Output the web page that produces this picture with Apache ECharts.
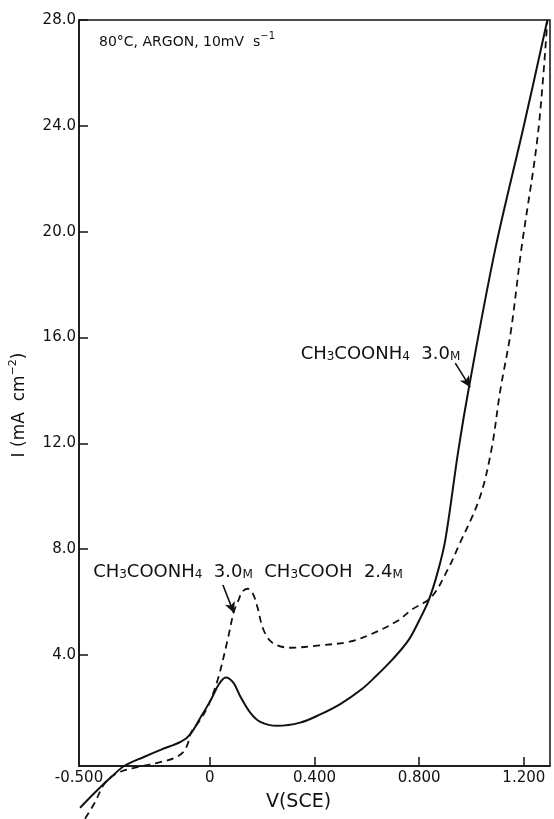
<!DOCTYPE html>
<html>
<head>
<meta charset="utf-8">
<script src="https://cdn.jsdelivr.net/npm/echarts/dist/echarts.min.js"></script>
<style>
  html, body { margin: 0; padding: 0; background: #fff; }
  #chart { width: 554px; height: 819px; }
</style>
</head>
<body>
<div id="chart"></div>
<script>
// Anodic polarization at 80 °C under argon, 10 mV/s sweep
const xTicks = [-0.5, 0, 0.4, 0.8, 1.2];
const xTickLabels = ['-0.500', '0', '0.400', '0.800', '1.200'];
const yTicks = [4, 8, 12, 16, 20, 24, 28];

// CH3COONH4 3.0 M  [V(SCE), I (mA cm^-2)]
const ammoniumAcetate = [
  [-0.496, -1.78], [-0.44, -1.21], [-0.375, -0.60], [-0.326, -0.19], [-0.25, 0.15],
  [-0.186, 0.42], [-0.11, 0.72], [-0.075, 1.00], [-0.034, 1.66], [0.004, 2.30],
  [0.035, 2.90], [0.061, 3.15], [0.09, 2.95], [0.117, 2.42], [0.155, 1.81],
  [0.193, 1.47], [0.258, 1.32], [0.345, 1.44], [0.42, 1.74], [0.50, 2.15],
  [0.58, 2.70], [0.629, 3.14], [0.70, 3.85], [0.76, 4.57], [0.80, 5.30],
  [0.837, 6.08], [0.87, 7.10], [0.90, 8.35], [0.95, 11.75], [0.99, 14.10],
  [1.09, 19.30], [1.20, 24.00], [1.29, 28.00]
];

// CH3COONH4 3.0 M + CH3COOH 2.4 M
const ammoniumAcetateAcid = [
  [-0.477, -2.19], [-0.44, -1.59], [-0.40, -0.83], [-0.35, -0.45], [-0.27, -0.23],
  [-0.20, -0.08], [-0.136, 0.10], [-0.10, 0.34], [-0.083, 0.68], [-0.072, 1.06],
  [-0.04, 1.50], [-0.008, 2.04], [0.03, 3.06], [0.068, 4.57], [0.091, 5.60],
  [0.11, 6.08], [0.125, 6.40], [0.144, 6.50], [0.165, 6.30], [0.182, 5.80],
  [0.205, 4.95], [0.239, 4.46], [0.307, 4.27], [0.41, 4.35], [0.534, 4.50],
  [0.62, 4.80], [0.72, 5.30], [0.77, 5.70], [0.848, 6.20], [0.913, 7.30],
  [0.95, 8.10], [1.03, 9.90], [1.076, 11.75], [1.11, 14.00], [1.15, 16.20],
  [1.19, 19.30], [1.254, 23.70], [1.29, 28.00]
];

// Annotation anchors (data units)
const labelAcetatePos = [0.347, 15.45];
const arrowAcetate = [[0.938, 15.03], [0.995, 14.12]];
const labelMixPos = [-0.446, 7.2];
const arrowMix = [[0.05, 6.64], [0.092, 5.58]];

const FONT = 'DejaVu Sans';
const INK = '#111';
const richText = {
  t:   { fontFamily: FONT, fontSize: 18, lineHeight: 22, color: INK, verticalAlign: 'bottom' },
  sub: { fontFamily: FONT, fontSize: 12, lineHeight: 8,  color: INK, verticalAlign: 'bottom' },
  m:   { fontFamily: FONT, fontSize: 12, lineHeight: 17, color: INK, verticalAlign: 'bottom' }
};

const chart = echarts.init(document.getElementById('chart'), null, { renderer: 'canvas' });

chart.setOption({
  animation: false,
  backgroundColor: '#fff',
  grid: {
    left: 79, right: 4, top: 20, bottom: 53,
    show: true, borderColor: INK, borderWidth: 1.5, backgroundColor: 'transparent'
  },
  xAxis: {
    type: 'value', min: -0.5, max: 1.3,
    axisLine: { show: true, onZero: false, lineStyle: { color: INK, width: 1.5 } },
    axisTick: { show: true, inside: true, length: 9, customValues: xTicks.slice(1), lineStyle: { color: INK, width: 1.5 } },
    axisLabel: {
      customValues: xTicks, margin: 5, color: INK, fontFamily: FONT, fontSize: 15,
      formatter: v => { const i = xTicks.findIndex(t => Math.abs(t - v) < 1e-9); return i >= 0 ? xTickLabels[i] : ''; }
    },
    splitLine: { show: false },
    name: 'V(SCE)', nameLocation: 'middle', nameGap: 27,
    nameTextStyle: { color: INK, fontFamily: FONT, fontSize: 19, padding: [0, 32, 0, 0] }
  },
  yAxis: {
    type: 'value', min: -0.2, max: 28,
    axisLine: { show: true, onZero: false, lineStyle: { color: INK, width: 1.5 } },
    axisTick: { show: true, inside: true, length: 9, customValues: yTicks, lineStyle: { color: INK, width: 1.5 } },
    axisLabel: {
      customValues: yTicks, margin: 3, color: INK, fontFamily: FONT, fontSize: 15,
      formatter: v => v.toFixed(1)
    },
    splitLine: { show: false }
  },
  graphic: [
    {
      type: 'text', left: 99, top: 31,
      style: {
        text: '{t|80°C, ARGON, 10mV  s}{sup|−1}',
        rich: {
          t:   { fontFamily: FONT, fontSize: 14, lineHeight: 18, fill: INK, verticalAlign: 'bottom' },
          sup: { fontFamily: FONT, fontSize: 10, lineHeight: 18, fill: INK, verticalAlign: 'top' }
        }
      }
    },
    {
      // vertical axis title
      type: 'text', x: 18, y: 405, rotation: Math.PI / 2,
      style: {
        text: '{t|I (mA  cm}{sup|−2}{t|)}',
        align: 'center', verticalAlign: 'middle',
        rich: {
          t:   { fontFamily: FONT, fontSize: 17, lineHeight: 20, fill: INK, verticalAlign: 'bottom' },
          sup: { fontFamily: FONT, fontSize: 11, lineHeight: 20, fill: INK, verticalAlign: 'top' }
        }
      }
    }
  ],
  series: [
    {
      name: 'CH3COONH4 3.0M', type: 'line', data: ammoniumAcetate,
      showSymbol: false, smooth: 0.35, clip: false, silent: true,
      lineStyle: { color: INK, width: 2 },
      markLine: {
        silent: true, symbol: ['none', 'arrow'], symbolSize: [8, 11],
        label: { show: false },
        lineStyle: { color: INK, width: 1.6, type: 'solid', curveness: -0.2 },
        data: [[{ coord: arrowAcetate[0] }, { coord: arrowAcetate[1] }]]
      },
      markPoint: {
        silent: true, symbol: 'circle', symbolSize: 0,
        data: [{
          coord: labelAcetatePos,
          label: {
            show: true, position: 'right', distance: 0,
            formatter: '{t|CH}{sub|3}{t|COONH}{sub|4}{t|  3.0}{m|M}',
            rich: richText
          }
        }]
      }
    },
    {
      name: 'CH3COONH4 3.0M CH3COOH 2.4M', type: 'line', data: ammoniumAcetateAcid,
      showSymbol: false, smooth: 0.35, clip: false, silent: true,
      lineStyle: { color: INK, width: 1.8, type: [7, 5] },
      markLine: {
        silent: true, symbol: ['none', 'arrow'], symbolSize: [8, 11],
        label: { show: false },
        lineStyle: { color: INK, width: 1.6, type: 'solid', curveness: -0.2 },
        data: [[{ coord: arrowMix[0] }, { coord: arrowMix[1] }]]
      },
      markPoint: {
        silent: true, symbol: 'circle', symbolSize: 0,
        data: [{
          coord: labelMixPos,
          label: {
            show: true, position: 'right', distance: 0,
            formatter: '{t|CH}{sub|3}{t|COONH}{sub|4}{t|  3.0}{m|M}{t|  CH}{sub|3}{t|COOH  2.4}{m|M}',
            rich: richText
          }
        }]
      }
    }
  ]
});
</script>
</body>
</html>
